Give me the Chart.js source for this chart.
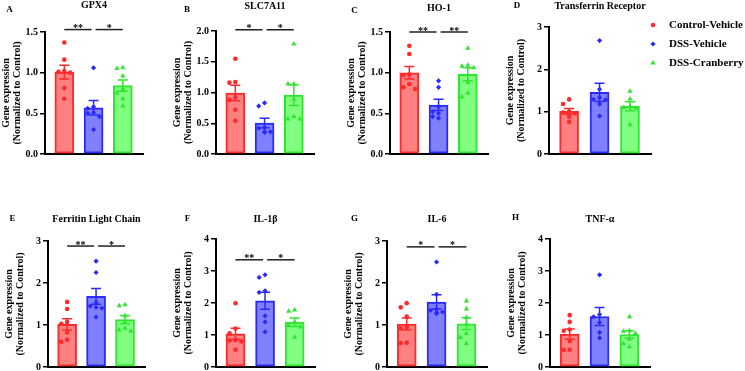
<!DOCTYPE html>
<html>
<head>
<meta charset="utf-8">
<title>Gene expression panels</title>
<script src="https://cdn.jsdelivr.net/npm/chart.js@4.4.0/dist/chart.umd.min.js"></script>
<style>
  html, body { margin: 0; padding: 0; background: #fff; }
  body { width: 745px; height: 371px; position: relative; overflow: hidden; }
  canvas { position: absolute; }
</style>
</head>
<body>
<script>
// data
const panelTitles = ['GPX4', 'SLC7A11', 'HO-1', 'Transferrin Receptor', 'Ferritin Light Chain', 'IL-1β', 'IL-6', 'TNF-α'];
const panelLetters = ['A', 'B', 'C', 'D', 'E', 'F', 'G', 'H'];
const groupNames = ['Control-Vehicle', 'DSS-Vehicle', 'DSS-Cranberry'];

const controlVehicle = [
  [1.37, 1.16, 1.02, 1.01, 1.00, 0.81, 0.68],
  [1.55, 1.17, 1.16, 0.92, 0.88, 0.72, 0.54],
  [1.33, 1.23, 0.98, 0.97, 0.86, 0.82, 0.80],
  [1.29, 1.18, 1.00, 0.98, 0.96, 0.88, 0.76],
  [1.55, 1.38, 1.07, 1.03, 0.82, 0.65, 0.60],
  [1.99, 1.20, 1.05, 0.84, 0.83, 0.80, 0.54],
  [1.52, 1.42, 1.20, 0.95, 0.92, 0.58, 0.57],
  [1.62, 1.41, 1.17, 1.13, 0.81, 0.54, 0.53]
];
const dssVehicle = [
  [1.06, 0.58, 0.56, 0.51, 0.50, 0.46, 0.30],
  [0.83, 0.78, 0.43, 0.42, 0.36, 0.36, 0.35],
  [0.90, 0.82, 0.58, 0.52, 0.50, 0.46, 0.44],
  [2.68, 1.53, 1.33, 1.29, 1.28, 1.18, 0.90],
  [2.52, 2.25, 1.54, 1.45, 1.42, 1.40, 1.19],
  [2.88, 2.80, 2.38, 2.33, 1.60, 1.41, 1.10],
  [2.50, 1.73, 1.38, 1.35, 1.31, 1.30, 1.27],
  [2.88, 1.64, 1.57, 1.39, 1.08, 0.91]
];
const dssCranberry = [
  [1.06, 1.05, 0.96, 0.80, 0.75, 0.68, 0.59],
  [1.79, 1.14, 1.14, 0.89, 0.61, 0.57, 0.57],
  [1.30, 1.09, 1.08, 1.06, 0.88, 0.75, 0.70],
  [1.48, 1.30, 1.12, 1.10, 1.08, 0.69],
  [1.48, 1.46, 1.22, 1.08, 0.92, 0.88, 0.86],
  [1.78, 1.74, 1.40, 1.30, 1.25, 0.93],
  [1.57, 1.38, 1.18, 1.02, 0.80, 0.70, 0.56],
  [1.57, 1.13, 1.12, 1.05, 0.87, 0.73, 0.63]
];

const yTicks = [
  [0, 0.5, 1.0, 1.5],
  [0, 0.5, 1.0, 1.5, 2.0],
  [0, 0.5, 1.0, 1.5],
  [0, 1, 2, 3],
  [0, 1, 2, 3],
  [0, 1, 2, 3, 4],
  [0, 1, 2, 3],
  [0, 1, 2, 3, 4]
];
const yTickDecimals = [1, 1, 1, 0, 0, 0, 0, 0];

// [from group, to group, stars, bracket height]
const significance = [
  [[0, 1, '**', 1.53], [1, 2, '*', 1.53]],
  [[0, 1, '*', 2.02], [1, 2, '*', 2.02]],
  [[0, 1, '**', 1.50], [1, 2, '**', 1.50]],
  [],
  [[0, 1, '**', 2.88], [1, 2, '*', 2.88]],
  [[0, 1, '**', 3.35], [1, 2, '*', 3.35]],
  [[0, 1, '*', 2.86], [1, 2, '*', 2.86]],
  []
];

// styling / layout
const FONT = "'Liberation Serif', 'Times New Roman', serif";
const fillColors = ['#ff8080', '#8080ff', '#80ff80'];
const edgeColors = ['#ff2a2a', '#2a2aff', '#2ee62e'];
const markers = ['circle', 'rectRot', 'triangle'];
const markerSize = [2.3, 2.6, 3];

const layout = [
  { axisX: 45,  xEnd: 143, top: 32,  zero: 154, rowTop: 0,   letter: [9.5, 9.5],   titleY: 5 },
  { axisX: 216, xEnd: 314, top: 31,  zero: 154, rowTop: 0,   letter: [187, 10],    titleY: 6.5 },
  { axisX: 390, xEnd: 488, top: 32,  zero: 154, rowTop: 0,   letter: [354.5, 11],  titleY: 8 },
  { axisX: 549, xEnd: 651, top: 27,  zero: 154, rowTop: 0,   letter: [517, 6],     titleY: 6.5, legend: true },
  { axisX: 48,  xEnd: 145, top: 241, zero: 367, rowTop: 185, letter: [12.5, 218.5], titleY: 219.5 },
  { axisX: 216, xEnd: 315, top: 239, zero: 367, rowTop: 185, letter: [187.5, 218.5], titleY: 219.5 },
  { axisX: 387, xEnd: 487, top: 241, zero: 367, rowTop: 185, letter: [354.5, 218.5], titleY: 219.5 },
  { axisX: 550, xEnd: 650, top: 239, zero: 367, rowTop: 185, letter: [515.5, 218], titleY: 219.5 }
];

function meanSem(v) {
  const n = v.length;
  const m = v.reduce((a, b) => a + b, 0) / n;
  const sd = Math.sqrt(v.reduce((a, b) => a + (b - m) * (b - m), 0) / (n - 1));
  return { mean: m, sem: sd / Math.sqrt(n) };
}

// spread points that sit close together, like a column scatter
function spreadOffsets(values, yMax) {
  const order = values.map((v, i) => i).sort((a, b) => values[b] - values[a]);
  const slots = [0, -0.2, 0.2, -0.1, 0.1, -0.3, 0.3];
  const placed = [];
  const offsets = new Array(values.length).fill(0);
  order.forEach(i => {
    const near = placed.filter(p => Math.abs(values[p.i] - values[i]) < yMax * 0.04);
    const slot = slots.find(s => near.every(p => Math.abs(p.off - s) > 0.14));
    offsets[i] = slot === undefined ? 0 : slot;
    placed.push({ i, off: offsets[i] });
  });
  return offsets;
}

const extras = {
  id: 'panelExtras',
  afterDatasetDraw(chart, args, opts) {
    if (args.index !== 0) return;
    const { ctx, scales: { x, y } } = chart;
    ctx.save();
    ctx.lineWidth = 1.5;
    opts.stats.forEach((s, i) => {
      const px = x.getPixelForValue(i);
      const yt = y.getPixelForValue(s.mean + s.sem);
      const yb = y.getPixelForValue(s.mean - s.sem);
      ctx.strokeStyle = edgeColors[i];
      ctx.beginPath();
      ctx.moveTo(px, yt); ctx.lineTo(px, yb);
      ctx.moveTo(px - 5, yt); ctx.lineTo(px + 5, yt);
      ctx.moveTo(px - 5, yb); ctx.lineTo(px + 5, yb);
      ctx.stroke();
    });
    ctx.restore();
  },
  afterDraw(chart, args, opts) {
    const { ctx, chartArea, scales: { x, y } } = chart;
    const L = opts.L;
    ctx.save();
    // significance brackets
    opts.sig.forEach(([a, b, stars, h]) => {
      const yy = y.getPixelForValue(h);
      const x1 = x.getPixelForValue(a) + (a === 1 ? 2 : 0);
      const x2 = x.getPixelForValue(b) - (b === 1 ? 2 : 0);
      ctx.strokeStyle = '#222';
      ctx.lineWidth = 1.5;
      ctx.beginPath();
      ctx.moveTo(x1, yy); ctx.lineTo(x2, yy);
      ctx.stroke();
      ctx.fillStyle = '#000';
      ctx.font = 'bold 10px ' + FONT;
      ctx.textAlign = 'center';
      ctx.textBaseline = 'alphabetic';
      ctx.fillText(stars, (x1 + x2) / 2, yy + 1.5);
    });
    // title and panel letter
    ctx.fillStyle = '#000';
    ctx.textBaseline = 'middle';
    ctx.textAlign = 'center';
    ctx.font = 'bold 10px ' + FONT;
    ctx.fillText(opts.title, (chartArea.left + chartArea.right) / 2, L.titleY - L.rowTop);
    ctx.font = 'bold 9px ' + FONT;
    ctx.fillText(opts.letter, L.letter[0] - opts.left, L.letter[1] - L.rowTop);
    // legend
    if (L.legend) {
      groupNames.forEach((name, i) => {
        const cy = 25 + i * 19 - L.rowTop;
        ctx.fillStyle = edgeColors[i];
        Chart.helpers.drawPoint(ctx, { pointStyle: markers[i], radius: markerSize[i], rotation: 0, borderWidth: 0 }, 653 - opts.left, cy);
        ctx.fillStyle = '#000';
        ctx.textAlign = 'left';
        ctx.font = 'bold 11px ' + FONT;
        ctx.fillText(name, 669 - opts.left, cy);
      });
    }
    ctx.restore();
  }
};

layout.forEach((L, k) => {
  const groups = [controlVehicle[k], dssVehicle[k], dssCranberry[k]];
  const stats = groups.map(meanSem);
  const yMax = yTicks[k][yTicks[k].length - 1];
  const left = L.axisX - 44;
  const width = (L.legend ? 745 : L.xEnd + 14) - left;
  const height = 186;

  const canvas = document.createElement('canvas');
  canvas.width = width;
  canvas.height = height;
  canvas.style.left = left + 'px';
  canvas.style.top = L.rowTop + 'px';
  canvas.style.width = width + 'px';
  canvas.style.height = height + 'px';
  document.body.appendChild(canvas);

  const datasets = [{
    type: 'bar',
    data: stats.map((s, i) => ({ x: i, y: s.mean })),
    backgroundColor: fillColors,
    borderColor: edgeColors,
    borderWidth: 2,
    borderSkipped: false,
    barThickness: 19,
    order: 2
  }];
  groups.forEach((vals, i) => {
    const offs = spreadOffsets(vals, yMax);
    datasets.push({
      type: 'scatter',
      label: groupNames[i],
      data: vals.map((v, j) => ({ x: i + offs[j], y: v })),
      pointStyle: markers[i],
      pointRadius: markerSize[i],
      backgroundColor: edgeColors[i],
      borderWidth: 0,
      order: 1
    });
  });

  new Chart(canvas.getContext('2d'), {
    type: 'bar',
    data: { datasets },
    plugins: [extras],
    options: {
      responsive: false,
      animation: false,
      events: [],
      layout: {
        padding: {
          left: 0,
          right: width - (L.xEnd - left),
          top: L.top - L.rowTop,
          bottom: L.rowTop + height - L.zero
        }
      },
      plugins: {
        legend: { display: false },
        tooltip: { enabled: false },
        panelExtras: { stats, sig: significance[k], title: panelTitles[k], letter: panelLetters[k], L, left }
      },
      scales: {
        x: {
          type: 'linear',
          min: -0.66,
          max: 2.69,
          offset: false,
          ticks: { display: false },
          grid: { display: false },
          border: { color: '#000', width: 2 },
          afterFit: s => { s.height = 0; s.paddingLeft = 0; s.paddingRight = 0; }
        },
        y: {
          min: 0,
          max: yMax,
          afterBuildTicks: s => { s.ticks = yTicks[k].map(v => ({ value: v })); },
          ticks: {
            callback: v => Number(v).toFixed(yTickDecimals[k]),
            color: '#000',
            padding: 2,
            font: { family: FONT, size: 10, weight: 'bold' }
          },
          grid: { drawOnChartArea: false, drawTicks: true, tickLength: 5, color: '#000', lineWidth: 1.5 },
          border: { color: '#000', width: 2 },
          title: {
            display: true,
            text: ['Gene expression', '(Normalized to Control)'],
            color: '#000',
            padding: 0,
            font: { family: FONT, size: 10, weight: 'bold', lineHeight: 1.1 }
          },
          afterFit: s => { s.width = 44; s.paddingTop = 0; s.paddingBottom = 0; }
        }
      }
    }
  });
});
</script>
</body>
</html>
